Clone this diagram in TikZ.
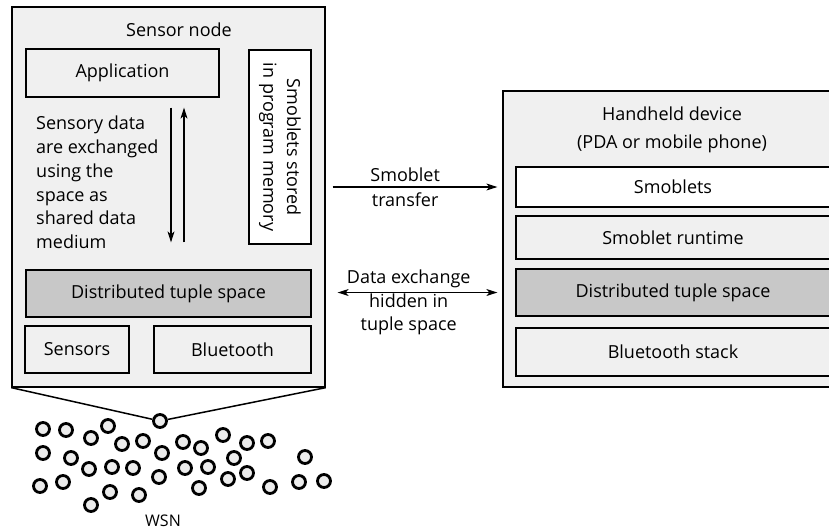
\documentclass[tikz,border=0pt]{standalone}
\usepackage{fontspec}
\setmainfont{Open Sans}
\usetikzlibrary{arrows.meta}
\definecolor{lightbg}{HTML}{F0F0F0}
\definecolor{darkbg}{HTML}{C8C8C8}
\definecolor{motefill}{HTML}{ECECEC}
\begin{document}
\begin{tikzpicture}[x=1pt,y=-1pt,
  every node/.style={font=\fontsize{18}{23.8}\selectfont},
  box/.style={draw,line width=1.3pt,fill=lightbg,inner sep=0pt},
  graybox/.style={box,fill=darkbg},
  whitebox/.style={box,fill=white},
  mote/.style={circle,draw,line width=2.8pt,fill=motefill,inner sep=0pt,minimum size=13pt},
  >={Stealth[length=11pt,width=7pt,inset=3pt]}]
\useasboundingbox (0,0) rectangle (829,531);
\node[box,minimum width=313pt,minimum height=380pt] (sensor) at (168.5,197) {};
\node (sensortitle) at (179,30) {Sensor node};
\node[box,minimum width=193pt,minimum height=48pt] (app) at (122.5,73) {Application};
\node[whitebox,minimum width=62pt,minimum height=194pt] (mem) at (280,147) {};
\node[rotate=-90,align=center] (memtxt) at (mem) {Smoblets stored\\in program memory};
\node[align=left,anchor=west,inner sep=0pt] (desc) at (36,182.5) {Sensory data\\are exchanged\\using the\\space as\\shared data\\medium};
\node[graybox,minimum width=285pt,minimum height=47pt] (dts1) at (168.5,293.5) {Distributed tuple space};
\node[box,minimum width=104pt,minimum height=47pt] (sensors) at (77,349.5) {Sensors};
\node[box,minimum width=157pt,minimum height=47pt] (bt1) at (232.5,349.5) {Bluetooth};
\coordinate (dn) at (171,0);
\coordinate (up) at (184,0);
\draw[->,line width=1.1pt,shorten <=10pt,shorten >=27pt] (app.south -| dn) -- (dts1.north -| dn);
\draw[->,line width=1.1pt,shorten <=27pt,shorten >=10pt] (dts1.north -| up) -- (app.south -| up);
\node[box,minimum width=342pt,minimum height=296pt] (handheld) at (674,239) {};
\node[align=center,font=\fontsize{18}{28}\selectfont] (handtitle) at (672,130) {Handheld device\\(PDA or mobile phone)};
\node[whitebox,minimum width=314pt,minimum height=40pt] (smob) at (673,187) {Smoblets};
\node[box,minimum width=314pt,minimum height=43pt] (rt) at (673,237.5) {Smoblet runtime};
\node[graybox,minimum width=314pt,minimum height=47pt] (dts2) at (673,292.5) {Distributed tuple space};
\node[box,minimum width=314pt,minimum height=48pt] (bts) at (673,352) {Bluetooth stack};
\draw[->,line width=1.1pt,shorten <=7pt,shorten >=5pt] (sensor.east |- smob) -- (handheld.west |- smob)
  node[pos=0.45,align=center,font=\fontsize{18}{25}\selectfont] (smobtxt) {Smoblet\\transfer};
\draw[<->,line width=1.1pt,shorten <=12pt,shorten >=5pt] (sensor.east |- dts2) -- (handheld.west |- dts2)
  node[pos=0.47,yshift=-10pt,align=center] (dexttxt) {Data exchange\\hidden in\\tuple space};
\foreach \n/\x/\y in {1/43/429,2/66/430,3/91/438,4/108/426,5/122/444,6/143/441,7/160/421,8/183/442,
  9/201/448,10/223/435,11/247/443,12/268/441,13/43/453,14/71/458,15/89/469,16/112/467,17/133/468,
  18/162/453,19/185/468,20/208/467,21/234/458,22/247/473,23/305/457,24/40/486,25/63/482,26/91/505,
  27/110/492,28/139/495,29/159/477,30/199/488,31/228/479,32/270/487,33/299/482,34/324/481}{
\node[mote] (w\n) at (\x,\y) {};};
\draw[line width=1.5pt] (sensor.south west) -- (w7) -- (sensor.south east);
\node[font=\fontsize{16}{19}\selectfont] (wsn) at (163,521) {WSN};
\end{tikzpicture}
\end{document}
